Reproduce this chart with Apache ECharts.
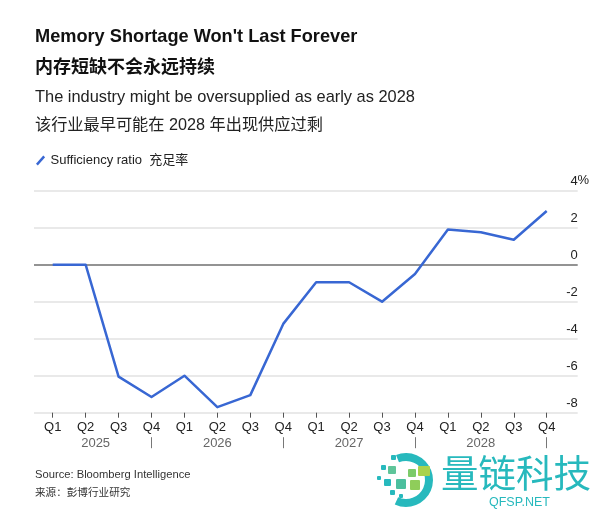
<!DOCTYPE html>
<html>
<head>
<meta charset="utf-8">
<script src="https://cdn.jsdelivr.net/npm/echarts@6/dist/echarts.min.js"></script>
<style>
  html, body { margin: 0; padding: 0; background: #fff; }
  #main { width: 600px; height: 513px; }
</style>
</head>
<body>
<div id="main"></div>
<script>
// chart data
var quarters = ['Q1','Q2','Q3','Q4','Q1','Q2','Q3','Q4','Q1','Q2','Q3','Q4','Q1','Q2','Q3','Q4'];
var years = ['2025', '2026', '2027', '2028'];
var sufficiency = [0, 0, -6.05, -7.15, -6.0, -7.7, -7.05, -3.2, -0.95, -0.95, -2.0, -0.5, 1.9, 1.75, 1.35, 2.9];
var yTicks = [-8, -6, -4, -2, 0, 2, 4];

var FONT = '"Liberation Sans", Arial, "Noto Sans CJK SC", sans-serif';
var CJK = '"Liberation Sans", "Noto Sans CJK SC", sans-serif';
var BLUE = '#3867d3';
var TEAL = '#27b9bd';

var myChart = echarts.init(document.getElementById('main'));

// zero line darker than the rest
var gridColors = yTicks.map(function (v) { return v === 0 ? '#6f6f6f' : '#e2e2e2'; });

var option = {
  backgroundColor: '#fff',
  animation: false,
  textStyle: { fontFamily: FONT },
  legend: {
    left: 31, top: 149,
    itemWidth: 10, itemHeight: 10, itemGap: 10,
    icon: 'path://M0,9 L8,0 L10,2 L2,11 Z',
    textStyle: { fontSize: 13, color: '#222', fontFamily: CJK },
    data: ['Sufficiency ratio  充足率']
  },
  grid: [
    // line grid: first/last quarter sit on the edges
    { left: 52.7, right: 53.3, top: 190.7, bottom: 100.3 },
    // background grid: gridlines and labels run wider
    { left: 34, right: 22.3, top: 190.7, bottom: 100.3 }
  ],
  xAxis: [
    {
      type: 'category', gridIndex: 0, data: quarters, boundaryGap: false,
      axisLine: { show: false, onZero: false },
      axisTick: { show: true, length: 5, lineStyle: { color: '#555', width: 1 } },
      axisLabel: { fontSize: 13, color: '#222', margin: 8, interval: 0 }
    },
    {
      // year row with separators under each Q4
      type: 'category', gridIndex: 0, data: quarters, boundaryGap: false,
      position: 'bottom', offset: 24.5,
      axisLine: { show: false, onZero: false },
      axisTick: {
        show: true, length: 11,
        interval: function (i) { return i % 4 === 3; },
        lineStyle: { color: '#777', width: 1 }
      },
      axisLabel: {
        interval: function (i) { return i % 4 === 1; },
        margin: 6, verticalAlign: 'middle',
        formatter: function (v, i) {
          var y = years[Math.floor(i / 4)];
          return i === 1 ? '{f|' + y + '}' : '{y|' + y + '}';
        },
        rich: {
          y: { fontSize: 13, color: '#666', fontFamily: FONT },
          f: { fontSize: 13, color: '#666', fontFamily: FONT, padding: [0, 0, 0, 20] }
        }
      }
    },
    { type: 'value', gridIndex: 1, show: false, min: 0, max: 1 }
  ],
  yAxis: [
    { type: 'value', gridIndex: 0, min: -8, max: 4, interval: 2, show: false, splitLine: { show: false } },
    {
      type: 'value', gridIndex: 1, min: -8, max: 4, interval: 2, position: 'right',
      axisLine: { show: false }, axisTick: { show: false },
      splitLine: { show: true, lineStyle: { color: gridColors, width: 1.6 } },
      axisLabel: {
        inside: true, margin: 0, fontSize: 13, color: '#222',
        verticalAlign: 'bottom', padding: [0, 0, 3, 0]
      }
    }
  ],
  series: [{
    name: 'Sufficiency ratio  充足率',
    type: 'line', xAxisIndex: 0, yAxisIndex: 0,
    data: sufficiency,
    symbol: 'none',
    lineStyle: { color: BLUE, width: 2.5, join: 'round' },
    itemStyle: { color: BLUE },
    z: 5
  }],
  graphic: [
    { type: 'text', left: 35, top: 28, style: { text: "Memory Shortage Won't Last Forever", font: 'bold 18.2px ' + FONT, fill: '#111' } },
    { type: 'text', left: 35, top: 59, style: { text: '内存短缺不会永远持续', font: 'bold 18px ' + CJK, fill: '#111' } },
    { type: 'text', left: 35, top: 89, style: { text: 'The industry might be oversupplied as early as 2028', font: '16.4px ' + FONT, fill: '#222' } },
    { type: 'text', left: 35, top: 117, style: { text: '该行业最早可能在 2028 年出现供应过剩', font: '16.2px ' + CJK, fill: '#222' } },
    { type: 'text', left: 577.5, top: 174, style: { text: '%', font: '13px ' + FONT, fill: '#222' } },
    { type: 'text', left: 35, top: 469, style: { text: 'Source: Bloomberg Intelligence', font: '11.2px ' + FONT, fill: '#333' } },
    { type: 'text', left: 35, top: 488, style: { text: '来源：彭博行业研究', font: '10.6px ' + CJK, fill: '#333' } },
    // watermark
    {
      type: 'group', left: 377, top: 453,
      children: [
        { type: 'sector', shape: { cx: 33, cy: 28, r: 27, r0: 19, startAngle: -1.95, endAngle: 2.0 }, style: { fill: TEAL } },
        { type: 'rect', shape: { x: 18, y: 3, width: 5, height: 5, r: 1 }, style: { fill: TEAL } },
        { type: 'rect', shape: { x: 8, y: 13, width: 5, height: 5, r: 1 }, style: { fill: TEAL } },
        { type: 'rect', shape: { x: 15, y: 14, width: 8, height: 8, r: 1 }, style: { fill: '#5fc59a' } },
        { type: 'rect', shape: { x: 45, y: 14, width: 12, height: 10, r: 1 }, style: { fill: '#a9d24c' } },
        { type: 'rect', shape: { x: 35, y: 17, width: 8, height: 8, r: 1 }, style: { fill: '#7ccb6a' } },
        { type: 'rect', shape: { x: 23, y: 27, width: 10, height: 10, r: 1 }, style: { fill: '#4cbf9e' } },
        { type: 'rect', shape: { x: 37, y: 28, width: 10, height: 10, r: 1 }, style: { fill: '#8fcd5a' } },
        { type: 'rect', shape: { x: 11, y: 27, width: 7, height: 7, r: 1 }, style: { fill: TEAL } },
        { type: 'rect', shape: { x: 4, y: 24, width: 4, height: 4, r: 1 }, style: { fill: TEAL } },
        { type: 'rect', shape: { x: 17, y: 38, width: 5, height: 5, r: 1 }, style: { fill: TEAL } },
        { type: 'rect', shape: { x: 26, y: 42, width: 4, height: 4, r: 1 }, style: { fill: TEAL } },
        { type: 'rect', shape: { x: 31, y: 49, width: 5, height: 5, r: 1 }, style: { fill: TEAL } },
        { type: 'text', x: 68, y: 2, style: { text: '量链科技', font: '37.5px "Noto Sans CJK SC", sans-serif', fill: TEAL } },
        { type: 'text', x: 116, y: 44, style: { text: 'QFSP.NET', font: '12.5px ' + FONT, fill: TEAL } }
      ]
    }
  ]
};

myChart.setOption(option);
</script>
</body>
</html>
